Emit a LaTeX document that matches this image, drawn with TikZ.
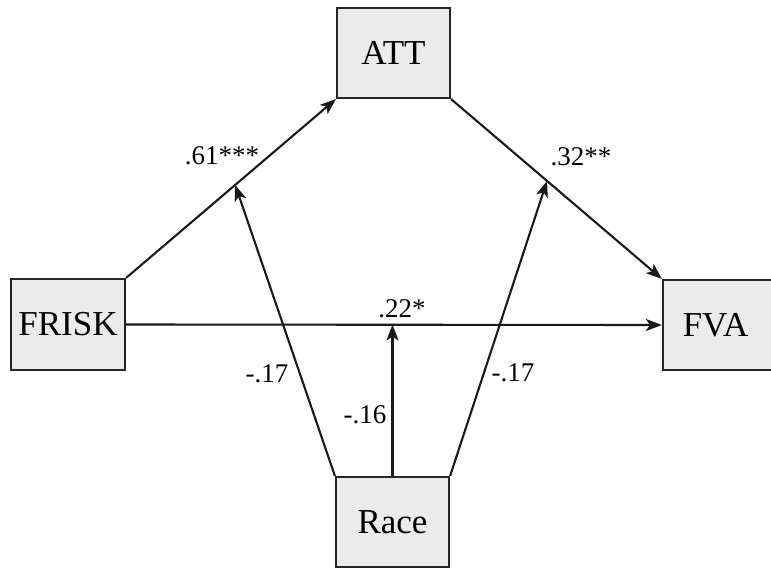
\documentclass[tikz,border=0pt]{standalone}
\usepackage{fontspec}
\setmainfont{Liberation Serif}
\usetikzlibrary{arrows.meta,calc}
\tikzset{
  varbox/.style={draw=black!85, line width=2.2pt, fill=black!8, inner sep=0pt,
    font=\fontsize{35}{38}\selectfont},
  conn/.style={line width=2.1pt, draw=black!90, -{Stealth[length=16pt,width=12pt,inset=4pt]}},
  coef/.style={inner sep=0pt, font=\fontsize{27}{30}\selectfont}
}
\begin{document}
\begin{tikzpicture}[x=1pt,y=-1pt]
\useasboundingbox (0,0) rectangle (771,570);
\clip (0,0) rectangle (771,570);
\node[varbox, minimum width=113pt, minimum height=90pt] (att) at (393.5,53) {ATT};
\node[varbox, minimum width=114pt, minimum height=91pt] (frisk) at (68,324.5) {FRISK};
\node[varbox, minimum width=113pt, minimum height=90pt] (fva) at (719.5,325) {\hspace*{-8pt}FVA};
\node[varbox, minimum width=113pt, minimum height=90pt] (race) at (392.5,522) {Race};

\draw[conn] (frisk.north east) -- (att.south west);
\draw[conn] (att.south east) -- (fva.north west);
\draw[conn] (frisk.east) -- (fva.west);

\coordinate (m1) at ($(frisk.north east)!0.52!(att.south west)$);
\coordinate (m2) at ($(att.south east)!0.455!(fva.north west)$);
\coordinate (m3) at (race.north |- frisk.east);
\coordinate (r3) at (race.north);

\draw[conn] (race.north west) -- (m1);
\draw[conn] (race.north east) -- (m2);
\draw[conn] (r3) -- (m3);

\node[coef] (l1) at (222,156) {.61***};
\node[coef] (l2) at (581,157) {.32**};
\node[coef] (l3) at (402,309) {.22*};
\node[coef] (l4) at (267,374) {-.17};
\node[coef] (l5) at (365,415) {-.16};
\node[coef] (l6) at (513,373) {-.17};
\end{tikzpicture}
\end{document}
